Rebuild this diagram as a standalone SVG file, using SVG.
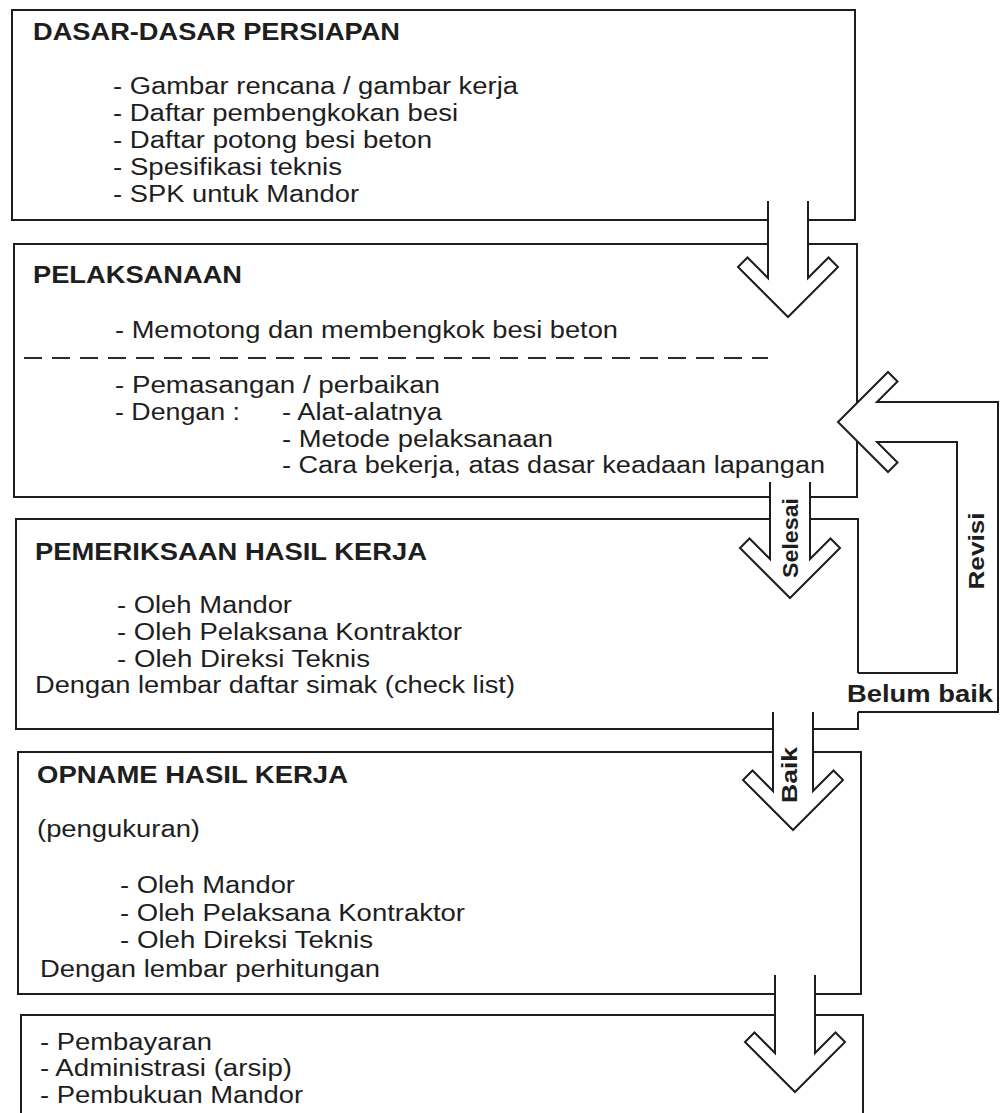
<svg xmlns="http://www.w3.org/2000/svg" width="1001" height="1113" viewBox="0 0 1001 1113">
<style>
.box{fill:none;stroke:#1e1e1e;stroke-width:2}
.con{fill:none;stroke:#1e1e1e;stroke-width:2;stroke-linejoin:miter}
.dash{fill:none;stroke:#2a2a2a;stroke-width:2;stroke-dasharray:18 10}
text{font-family:"Liberation Sans",Arial,sans-serif;font-size:23px;fill:#1e1e1e}
.t{font-weight:bold}
.lbl{font-weight:bold;font-size:22px}
</style>
<rect width="1001" height="1113" fill="#fff"/>
<g id="connectors">
<path class="con" d="M768 201 V278 L747.5 257.5 L738 267 L788 317 L838 267 L828.5 257.5 L808 278 V201"/>
<path class="con" d="M770 482 V559 L749.5 538.5 L740 548 L790 598 L840 548 L830.5 538.5 L810 559 V482"/>
<path class="con" d="M773 712 V791 L752.5 770.5 L743 780 L793 830 L843 780 L833.5 770.5 L813 791 V712"/>
<path class="con" d="M775 975 V1053 L754.5 1032.5 L745 1042 L795 1092 L845 1042 L835.5 1032.5 L815 1053 V975"/>
<path class="con" d="M858 712 H998 V402 H877 L897.5 381.5 L888 372 L838 422 L888 472 L897.5 462.5 L877 442 H957 V673 H858"/>
<text class="lbl" transform="translate(790 538) rotate(-90)" x="0" y="8" text-anchor="middle" textLength="80" lengthAdjust="spacingAndGlyphs">Selesai</text>
<text class="lbl" transform="translate(976 551) rotate(-90)" x="0" y="8" text-anchor="middle" textLength="77" lengthAdjust="spacingAndGlyphs">Revisi</text>
<text class="lbl" transform="translate(789 775) rotate(-90)" x="0" y="8" text-anchor="middle" textLength="56" lengthAdjust="spacingAndGlyphs">Baik</text>
<text class="t" x="847" y="702" textLength="146" lengthAdjust="spacingAndGlyphs">Belum baik</text>
</g>
<g id="node-persiapan">
<path class="box" d="M768 220 H12 V10 H855 V220 H808"/>
<text class="t" x="33" y="40" textLength="367" lengthAdjust="spacingAndGlyphs">DASAR-DASAR PERSIAPAN</text>
<text x="113" y="94" textLength="405" lengthAdjust="spacingAndGlyphs">- Gambar rencana / gambar kerja</text>
<text x="113" y="121" textLength="345" lengthAdjust="spacingAndGlyphs">- Daftar pembengkokan besi</text>
<text x="113" y="148" textLength="319" lengthAdjust="spacingAndGlyphs">- Daftar potong besi beton</text>
<text x="113" y="175" textLength="229" lengthAdjust="spacingAndGlyphs">- Spesifikasi teknis</text>
<text x="113" y="202" textLength="246" lengthAdjust="spacingAndGlyphs">- SPK untuk Mandor</text>
</g>
<g id="node-pelaksanaan">
<path class="box" d="M768 244 H14 V497 H770 M810 497 H857 V441 M857 403 V244 H808"/>
<text class="t" x="33" y="283" textLength="209" lengthAdjust="spacingAndGlyphs">PELAKSANAAN</text>
<text x="115" y="338" textLength="503" lengthAdjust="spacingAndGlyphs">- Memotong dan membengkok besi beton</text>
<line class="dash" x1="24" y1="358" x2="768" y2="358"/>
<text x="115" y="393" textLength="325" lengthAdjust="spacingAndGlyphs">- Pemasangan / perbaikan</text>
<text x="115" y="420" textLength="125" lengthAdjust="spacingAndGlyphs">- Dengan :</text>
<text x="282" y="420" textLength="160" lengthAdjust="spacingAndGlyphs">- Alat-alatnya</text>
<text x="282" y="447" textLength="271" lengthAdjust="spacingAndGlyphs">- Metode pelaksanaan</text>
<text x="282" y="473" textLength="543" lengthAdjust="spacingAndGlyphs">- Cara bekerja, atas dasar keadaan lapangan</text>
</g>
<g id="node-pemeriksaan">
<path class="box" d="M770 519 H16 V729 H773 M813 729 H858 V712 M858 673 V519 H810"/>
<text class="t" x="35" y="560" textLength="392" lengthAdjust="spacingAndGlyphs">PEMERIKSAAN HASIL KERJA</text>
<text x="117" y="613" textLength="175" lengthAdjust="spacingAndGlyphs">- Oleh Mandor</text>
<text x="117" y="640" textLength="345" lengthAdjust="spacingAndGlyphs">- Oleh Pelaksana Kontraktor</text>
<text x="117" y="667" textLength="253" lengthAdjust="spacingAndGlyphs">- Oleh Direksi Teknis</text>
<text x="35" y="693" textLength="480" lengthAdjust="spacingAndGlyphs">Dengan lembar daftar simak (check list)</text>
</g>
<g id="node-opname">
<path class="box" d="M773 752 H18 V994 H775 M815 994 H861 V752 H813"/>
<text class="t" x="37" y="783" textLength="311" lengthAdjust="spacingAndGlyphs">OPNAME HASIL KERJA</text>
<text x="37" y="837" textLength="163" lengthAdjust="spacingAndGlyphs">(pengukuran)</text>
<text x="120" y="893" textLength="175" lengthAdjust="spacingAndGlyphs">- Oleh Mandor</text>
<text x="120" y="921" textLength="345" lengthAdjust="spacingAndGlyphs">- Oleh Pelaksana Kontraktor</text>
<text x="120" y="948" textLength="253" lengthAdjust="spacingAndGlyphs">- Oleh Direksi Teknis</text>
<text x="40" y="977" textLength="340" lengthAdjust="spacingAndGlyphs">Dengan lembar perhitungan</text>
</g>
<g id="node-pembayaran">
<path class="box" d="M775 1015 H21 V1113 M863 1113 V1015 H815"/>
<text x="40" y="1050" textLength="172" lengthAdjust="spacingAndGlyphs">- Pembayaran</text>
<text x="40" y="1076" textLength="252" lengthAdjust="spacingAndGlyphs">- Administrasi (arsip)</text>
<text x="40" y="1103" textLength="263" lengthAdjust="spacingAndGlyphs">- Pembukuan Mandor</text>
</g>
</svg>
